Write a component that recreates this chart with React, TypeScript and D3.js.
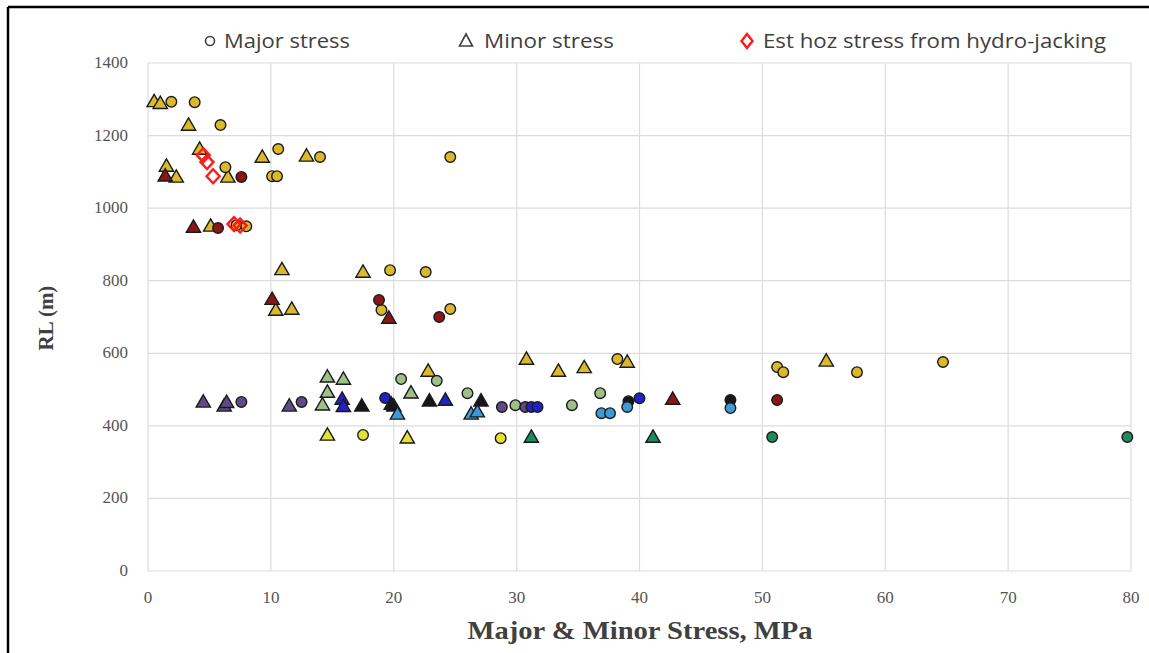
import React from "react";
import * as d3 from "d3";

const width = 1149;
const height = 653;

// [stress MPa, RL m]
const majorGold = [[1.9,1293],[3.8,1292],[5.9,1229],[10.6,1163],[14.0,1141],[24.6,1141],[6.3,1113],[10.1,1088],[10.5,1088],[7.2,953],[8.0,950],[19.7,829],[22.6,824],[19.0,719],[24.6,722],[38.2,584],[51.2,562],[51.7,548],[57.7,548],[64.7,576]];
const minorGold = [[0.5,1291],[1.0,1286],[3.3,1226],[4.2,1160],[9.3,1138],[12.9,1141],[1.5,1113],[2.3,1083],[6.5,1083],[5.1,948],[10.9,828],[17.5,821],[10.4,716],[11.7,719],[22.8,548],[30.8,581],[33.4,548],[35.5,558],[39.0,573],[55.2,576]];
const majorDarkRed = [[7.6,1086],[5.7,945],[18.8,747],[23.7,700],[51.2,471]];
const minorDarkRed = [[1.4,1086],[3.7,945],[10.1,746],[19.6,694],[42.7,471]];
const majorOlive = [[20.6,529],[23.5,524],[26.0,490],[29.9,457],[34.5,457],[36.8,490]];
const minorOlive = [[14.6,532],[15.9,526],[14.6,490],[14.2,455],[21.4,488]];
const majorPurple = [[7.6,466],[12.5,466],[28.8,452],[30.7,452]];
const minorPurple = [[4.5,463],[6.2,452],[6.4,462],[11.5,452]];
const majorBlue = [[19.3,477],[31.2,452],[31.7,452],[40.0,476]];
const minorBlue = [[15.8,471],[15.9,451],[24.2,468]];
const majorBlack = [[39.1,468],[47.4,471]];
const minorBlack = [[17.4,452],[19.8,457],[20.0,452],[22.9,466],[27.1,466]];
const majorCyan = [[36.9,435],[37.6,435],[39.0,452],[47.4,449]];
const minorCyan = [[20.3,430],[26.3,430],[26.8,436]];
const majorTeal = [[50.8,369],[79.7,369]];
const minorTeal = [[31.2,366],[41.1,366]];
const majorLime = [[17.5,375],[28.7,366]];
const minorLime = [[14.6,372],[21.1,364]];
const hydroJacking = [[4.5,1146],[4.8,1127],[5.3,1088],[7.0,956],[7.5,952]];

const xTicks = [0, 10, 20, 30, 40, 50, 60, 70, 80];
const yTicks = [0, 200, 400, 600, 800, 1000, 1200, 1400];

const series = [
  { data: minorGold, shape: "tri", fill: "#dcb92c" },
  { data: majorGold, shape: "circ", fill: "#dcb92c" },
  { data: minorDarkRed, shape: "tri", fill: "#8b1616" },
  { data: majorDarkRed, shape: "circ", fill: "#8b1616" },
  { data: minorOlive, shape: "tri", fill: "#9ebf87" },
  { data: majorOlive, shape: "circ", fill: "#9ebf87" },
  { data: minorPurple, shape: "tri", fill: "#5e4a86" },
  { data: majorPurple, shape: "circ", fill: "#5e4a86" },
  { data: minorBlue, shape: "tri", fill: "#2222c4" },
  { data: majorBlue, shape: "circ", fill: "#2222c4" },
  { data: minorBlack, shape: "tri", fill: "#161616" },
  { data: majorBlack, shape: "circ", fill: "#161616" },
  { data: minorCyan, shape: "tri", fill: "#3b9bd6" },
  { data: majorCyan, shape: "circ", fill: "#3b9bd6" },
  { data: minorTeal, shape: "tri", fill: "#1f8a5c" },
  { data: majorTeal, shape: "circ", fill: "#1f8a5c" },
  { data: minorLime, shape: "tri", fill: "#e4e034" },
  { data: majorLime, shape: "circ", fill: "#e4e034" },
];

const triPath = d3.symbol().type(d3.symbolTriangle).size(88)();
const diamondPath = "M0,-7L6.5,0L0,7L-6.5,0Z";

export default function App() {
  const x = d3.scaleLinear().domain([0, 80]).range([148, 1131]);
  const y = d3.scaleLinear().domain([0, 1400]).range([571, 63]);
  const serif = "'Liberation Serif', 'DejaVu Serif', serif";
  const sans = "'Open Sans', 'Liberation Sans', sans-serif";

  return (
    <svg width={width} height={height} style={{ position: "absolute", left: 0, top: 0, background: "#fff" }}>
      <rect x={0} y={0} width={width} height={height} fill="#fff" />
      {/* frame */}
      <line x1={8} y1={7} x2={width} y2={7} stroke="#000" strokeWidth={2.5} />
      <line x1={8} y1={7} x2={8} y2={height} stroke="#000" strokeWidth={2.5} />

      {/* gridlines */}
      {xTicks.map((t) => (
        <line key={"gx" + t} x1={x(t)} x2={x(t)} y1={y(1400)} y2={y(0)} stroke="#dcdcdc" strokeWidth={1.2} />
      ))}
      {yTicks.map((t) => (
        <line key={"gy" + t} x1={x(0)} x2={x(80)} y1={y(t)} y2={y(t)} stroke="#dcdcdc" strokeWidth={1.2} />
      ))}

      {/* tick labels */}
      {yTicks.map((t) => (
        <text key={"ty" + t} x={128} y={y(t) + 5} textAnchor="end" fontFamily={serif} fontSize={17} fill="#555">
          {t}
        </text>
      ))}
      {xTicks.map((t) => (
        <text key={"tx" + t} x={x(t)} y={603} textAnchor="middle" fontFamily={serif} fontSize={17} fill="#555">
          {t}
        </text>
      ))}

      {/* axis titles */}
      <text x={640} y={639} textAnchor="middle" fontFamily={serif} fontWeight="bold" fontSize={25} fill="#404040" textLength={345} lengthAdjust="spacingAndGlyphs">
        Major &amp; Minor Stress, MPa
      </text>
      <text transform="translate(53,318) rotate(-90)" textAnchor="middle" fontFamily={serif} fontWeight="bold" fontSize={21} fill="#404040">
        RL (m)
      </text>

      {/* points */}
      {series.map((s, i) => (
        <g key={"s" + i}>
          {s.data.map((d, j) =>
            s.shape === "circ" ? (
              <circle key={j} cx={x(d[0])} cy={y(d[1])} r={5.3} fill={s.fill} stroke="#1a1a1a" strokeWidth={1.4} />
            ) : (
              <path key={j} d={triPath} transform={`translate(${x(d[0])},${y(d[1])})`} fill={s.fill} stroke="#1a1a1a" strokeWidth={1.4} />
            )
          )}
        </g>
      ))}
      {hydroJacking.map((d, j) => (
        <path key={"h" + j} d={diamondPath} transform={`translate(${x(d[0])},${y(d[1])})`} fill="none" stroke="#ff1a1a" strokeWidth={2.4} />
      ))}

      {/* legend */}
      <circle cx={210} cy={41} r={4.5} fill="none" stroke="#404040" strokeWidth={1.6} />
      <text x={224} y={48} fontFamily={sans} fontSize={20} fill="#404040" textLength={126} lengthAdjust="spacingAndGlyphs">Major stress</text>
      <path d="M466,34L472.5,46L459.5,46Z" fill="none" stroke="#404040" strokeWidth={1.6} />
      <text x={484} y={48} fontFamily={sans} fontSize={20} fill="#404040" textLength={130} lengthAdjust="spacingAndGlyphs">Minor stress</text>
      <path d="M747,34L752.5,41L747,48L741.5,41Z" fill="none" stroke="#ff1a1a" strokeWidth={2.4} />
      <text x={763} y={48} fontFamily={sans} fontSize={20} fill="#404040" textLength={343} lengthAdjust="spacingAndGlyphs">Est hoz stress from hydro-jacking</text>
    </svg>
  );
}
